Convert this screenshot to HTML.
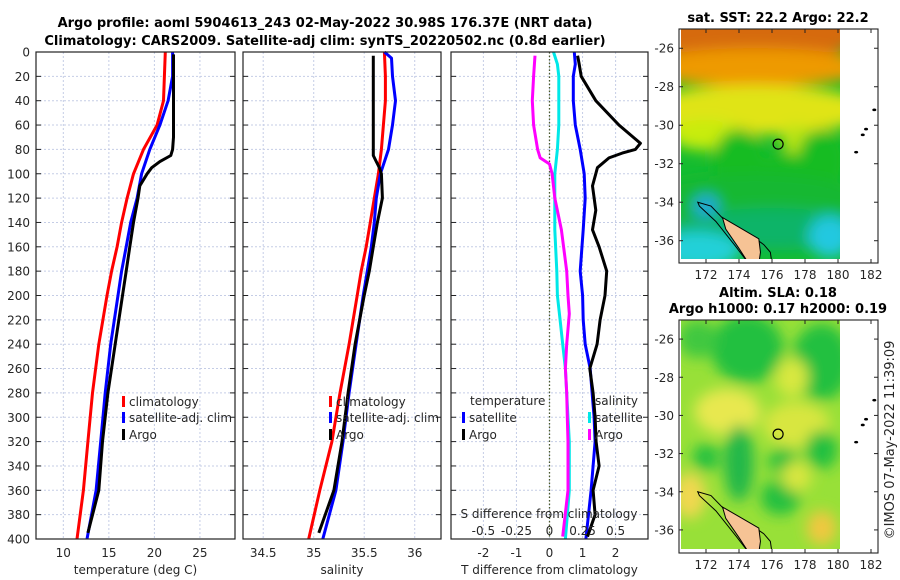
<!DOCTYPE html>
<html><head><meta charset="utf-8"><style>
body{margin:0;background:#fff;}
svg{display:block;font-family:"DejaVu Sans","Liberation Sans",sans-serif;}
.tick{font-size:12px;fill:#262626;}
.ttl{font-size:13px;font-weight:bold;fill:#000;}
</style></head><body>
<svg id="fig" width="900" height="580" viewBox="0 0 900 580">
<defs>
<filter id="blur6" x="-20%" y="-20%" width="140%" height="140%"><feGaussianBlur stdDeviation="7"/></filter>
<clipPath id="clip1"><rect x="681" y="29" width="159" height="230"/></clipPath>
<clipPath id="clip2"><rect x="681" y="320" width="159" height="229"/></clipPath>
</defs>
<text class="ttl" x="325" y="27" text-anchor="middle">Argo profile: aoml 5904613_243 02-May-2022 30.98S 176.37E (NRT data)</text>
<text class="ttl" x="325" y="45" text-anchor="middle">Climatology: CARS2009. Satellite-adj clim: synTS_20220502.nc (0.8d earlier)</text>
<g id="plots"></g>
<g id="maps"></g>
<text x="894" y="440" transform="rotate(-90 894 440)" text-anchor="middle" font-size="13" fill="#262626">©IMOS 07-May-2022 11:39:09</text>
</svg>
<script>
// ---- data ----
const depthTicks=[0,20,40,60,80,100,120,140,160,180,200,220,240,260,280,300,320,340,360,380,400];
const tempTicks=[10,15,20,25];
const salTicks=[34.5,35,35.5,36];
const tdiffTicks=[-2,-1,0,1,2];
const sdiffTicks=[-0.5,-0.25,0,0.25,0.5];
const sdiffTickLabels=["-0.5","-0.25","0","0.25","0.5"];

const climDepth=[0,20,40,60,80,100,120,140,160,180,200,240,280,320,360,400];
const climTemp=[21.2,21.1,21.0,20.3,18.8,17.7,17.0,16.4,15.9,15.3,14.8,13.9,13.2,12.7,12.2,11.5];
const satTemp=[22.0,22.0,21.5,20.6,19.5,18.6,18.1,17.4,16.9,16.4,16.0,15.2,14.6,14.1,13.6,12.6];
const argoDepth=[2,20,40,60,70,80,85,90,95,100,110,120,140,160,180,200,240,280,320,360,395];
const argoTemp=[22.1,22.1,22.1,22.1,22.1,22.0,21.8,20.6,19.7,19.2,18.4,18.2,17.7,17.3,16.9,16.5,15.7,14.9,14.3,13.9,12.7];

const climSal=[35.70,35.71,35.71,35.69,35.67,35.64,35.60,35.56,35.52,35.47,35.43,35.35,35.26,35.18,35.06,34.95];
const satSalDepth=[0,5,20,40,60,80,100,120,140,160,180,200,240,280,320,360,400];
const satSal=[35.70,35.77,35.78,35.81,35.78,35.74,35.66,35.62,35.60,35.57,35.53,35.49,35.42,35.35,35.29,35.22,35.09];
const argoSalDepth=[3,20,40,60,80,85,90,95,100,120,140,160,180,200,240,280,320,360,395];
const argoSal=[35.59,35.59,35.59,35.59,35.59,35.59,35.62,35.65,35.67,35.68,35.63,35.59,35.55,35.50,35.41,35.34,35.28,35.20,35.05];

const diffDepth=[0,10,20,40,60,80,100,120,146,180,200,220,240,260,280,300,320,360,400];
const satSdiff=[0.03,0.06,0.07,0.07,0.07,0.06,0.04,0.04,0.04,0.055,0.06,0.08,0.10,0.12,0.13,0.14,0.15,0.15,0.12];
const satTdiff=[0.75,0.78,0.72,0.72,0.78,0.93,1.05,1.08,1.02,0.93,1.0,1.02,1.08,1.23,1.29,1.35,1.38,1.26,1.10];
const argoSdiffDepth=[3,20,40,60,80,87,92,100,120,146,180,200,215,240,260,280,300,320,360,398];
const argoSdiff=[-0.11,-0.12,-0.13,-0.12,-0.09,-0.07,0.0,0.02,0.04,0.09,0.13,0.14,0.15,0.13,0.12,0.13,0.135,0.14,0.14,0.10];
const argoTdiffDepth=[3,10,20,40,60,75,80,83,87,95,100,110,130,146,160,180,200,220,240,260,280,300,320,340,360,380,398];
const argoTdiff=[0.85,0.9,0.96,1.4,2.1,2.75,2.6,2.2,1.8,1.45,1.4,1.3,1.4,1.3,1.5,1.73,1.68,1.53,1.44,1.22,1.32,1.38,1.41,1.5,1.32,1.38,1.15];

const NS='http://www.w3.org/2000/svg';
function mk(tag,attrs,parent){const e=document.createElementNS(NS,tag);for(const k in attrs)e.setAttribute(k,attrs[k]);parent.appendChild(e);return e;}
const plots=document.getElementById('plots');
const Y0=52,Y1=539;
function yD(d){return Y0+(d/400)*(Y1-Y0);}

function panel(name,x0,x1,xmin,xmax,ticks,labels,xlabel,showY){
  const g=mk('g',{},plots);
  
  
  const sx=v=>x0+(v-xmin)/(xmax-xmin)*(x1-x0);
  depthTicks.forEach(d=>{
    const l=mk('line',{x1:x0,x2:x1,y1:yD(d),y2:yD(d),stroke:'#c5cde6','stroke-width':1,'stroke-dasharray':'2,2'},g);
    
    
    mk('line',{x1:x0,x2:x0+5,y1:yD(d),y2:yD(d),stroke:'#222'},g);
    mk('line',{x1:x1-5,x2:x1,y1:yD(d),y2:yD(d),stroke:'#222'},g);
    if(showY){const t=mk('text',{x:x0-6,y:yD(d)+4.5,'text-anchor':'end',class:'tick'},g);t.textContent=d;
      
      }
  });
  ticks.forEach((v,i)=>{
    const l=mk('line',{x1:sx(v),x2:sx(v),y1:Y0,y2:Y1,stroke:'#c5cde6','stroke-width':1,'stroke-dasharray':'2,2'},g);
    
    
    const t=mk('text',{x:sx(v),y:Y1+18,'text-anchor':'middle',class:'tick'},g);t.textContent=labels[i];
    
    
  });
  const xl=mk('text',{x:(x0+x1)/2,y:Y1+35,'text-anchor':'middle',class:'tick','font-size':'13'},g);xl.textContent=xlabel;
  
  
  return {g,sx};
}
function line(p,sx,vals,depths,color,name){
  const pts=vals.map((v,i)=>sx(v).toFixed(1)+','+yD(depths[i]).toFixed(1)).join(' ');
  const l=mk('polyline',{points:pts,fill:'none',stroke:color,'stroke-width':3,'stroke-linejoin':'round'},p);
  
  
}
function box(g,x0,x1){mk('rect',{x:x0,y:Y0,width:x1-x0,height:Y1-Y0,fill:'none',stroke:'#222','stroke-width':1.2},g);}
function leg(g,x,y,color,text,name){
  mk('rect',{x:x,y:y-10,width:3,height:11,fill:color},g);
  const t=mk('text',{x:x+7,y:y,class:'tick','font-size':'13'},g);t.textContent=text;
  
  
}

// Panel 1 temperature
const p1=panel('temperature-panel',36,235,7.0,28.85,tempTicks,tempTicks.map(String),'temperature (deg C)',true);
line(p1.g,p1.sx,climTemp,climDepth,'#ff0000','climatology-temperature-line');
line(p1.g,p1.sx,satTemp,climDepth,'#0000ff','satellite-temperature-line');
line(p1.g,p1.sx,argoTemp,argoDepth,'#000','argo-temperature-line');
box(p1.g,36,235);
leg(p1.g,122,406,'#ff0000','climatology','legend-climatology');
leg(p1.g,122,422,'#0000ff','satellite-adj. clim','legend-satellite');
leg(p1.g,122,439,'#000','Argo','legend-argo');

// Panel 2 salinity
const p2=panel('salinity-panel',243,441,34.3,36.26,salTicks,salTicks.map(String),'salinity',false);
line(p2.g,p2.sx,climSal,climDepth,'#ff0000','climatology-salinity-line');
line(p2.g,p2.sx,satSal,satSalDepth,'#0000ff','satellite-salinity-line');
line(p2.g,p2.sx,argoSal,argoSalDepth,'#000','argo-salinity-line');
box(p2.g,243,441);
leg(p2.g,329,406,'#ff0000','climatology','legend-climatology');
leg(p2.g,329,422,'#0000ff','satellite-adj. clim','legend-satellite');
leg(p2.g,329,439,'#000','Argo','legend-argo');

// Panel 3 differences
const p3=panel('difference-panel',451,648,-2.98,2.98,tdiffTicks,tdiffTicks.map(String),'T difference from climatology',false);
const ssx=v=>p3.sx(v*4);
mk('line',{x1:p3.sx(0),x2:p3.sx(0),y1:Y0,y2:Y1,stroke:'#4b5a2a','stroke-width':1.3,'stroke-dasharray':'1.5,2'},p3.g);
line(p3.g,ssx,satSdiff,diffDepth,'#00e8e8','satellite-salinity-diff-line');
line(p3.g,ssx,argoSdiff,argoSdiffDepth,'#ff00ff','argo-salinity-diff-line');
line(p3.g,p3.sx,satTdiff,diffDepth,'#0000ff','satellite-temperature-diff-line');
line(p3.g,p3.sx,argoTdiff,argoTdiffDepth,'#000','argo-temperature-diff-line');
box(p3.g,451,648);
{const t=mk('text',{x:470,y:405,class:'tick','font-size':'13'},p3.g);t.textContent='temperature';
 
 
 const t2=mk('text',{x:595,y:405,class:'tick','font-size':'13'},p3.g);t2.textContent='salinity';
 
 }
leg(p3.g,462,422,'#0000ff','satellite','legend-temp-satellite');
leg(p3.g,462,439,'#000','Argo','legend-temp-argo');
leg(p3.g,588,422,'#00e8e8','satellite','legend-sal-satellite');
leg(p3.g,588,439,'#ff00ff','Argo','legend-sal-argo');
{const t=mk('text',{x:549,y:518,'text-anchor':'middle',class:'tick','font-size':'13'},p3.g);t.textContent='S difference from climatology';
 
 
 sdiffTicks.forEach((v,i)=>{const s=mk('text',{x:ssx(v),y:535,'text-anchor':'middle',class:'tick'},p3.g);s.textContent=sdiffTickLabels[i];
  
  });}

// ---- maps ----
const lonTicks=[172,174,176,178,180,182];
const latTicks=[-26,-28,-30,-32,-34,-36];
const maps=document.getElementById('maps');
function mapPanel(name,top,bot,latTop,latBot,clipId,blobs,base,title){
  const g=mk('g',{},maps);
  
  
  const X0=679,X1=878;
  const lx=lon=>706+(lon-172)*16.5;
  const ly=lat=>top+(latTop-lat)/(latTop-latBot)*(bot-top);
  const cg=mk('g',{'clip-path':'url(#'+clipId+')'},g);
  mk('rect',{x:681,y:top,width:159,height:bot-top,fill:base},cg);
  const bg=mk('g',{filter:'url(#blur6)'},cg);
  blobs.forEach(b=>mk('ellipse',{cx:lx(b[0]),cy:ly(b[1]),rx:b[2]*16.5,ry:b[3]*19.2,fill:b[4]},bg));
  const land=[[171.5,-34.0],[172.3,-34.2],[173.2,-35.0],[174.5,-35.6],[175.5,-36.2],[175.9,-36.6],[176.0,-37.2],[174.6,-37.2],[173.8,-36.3],[172.6,-35.0],[171.6,-34.2]];
  mk('polygon',{points:land.map(p=>lx(p[0])+','+ly(p[1])).join(' '),fill:'none',stroke:'#000','stroke-width':1},cg);
  const land2=[[173.0,-34.8],[174.0,-35.3],[175.2,-35.9],[175.3,-36.6],[175.2,-37.2],[174.6,-37.2],[174.0,-36.4],[173.2,-35.4]];
  const lp=mk('polygon',{points:land2.map(p=>lx(p[0])+','+ly(p[1])).join(' '),fill:'#f6c395',stroke:'#000','stroke-width':1},cg);
  
  
  [[181.1,-31.4],[181.5,-30.5],[181.7,-30.2],[182.2,-29.2]].forEach(p=>mk('ellipse',{cx:lx(p[0]),cy:ly(p[1]),rx:2,ry:1.3,fill:'#000'},g));
  const c=mk('circle',{cx:lx(176.37),cy:ly(-30.98),r:5,fill:'none',stroke:'#000','stroke-width':1.2},g);
  
  
  mk('rect',{x:X0,y:top,width:X1-X0,height:bot+4-top,fill:'none',stroke:'#222','stroke-width':1.1},g);
  const by=bot+4;
  lonTicks.forEach(v=>{mk('line',{x1:lx(v),x2:lx(v),y1:by,y2:by-4,stroke:'#222'},g);mk('line',{x1:lx(v),x2:lx(v),y1:top,y2:top+4,stroke:'#222'},g);
    const t=mk('text',{x:lx(v),y:by+16,'text-anchor':'middle',class:'tick'},g);t.textContent=v;
    
    });
  latTicks.forEach(v=>{mk('line',{x1:X0,x2:X0+4,y1:ly(v),y2:ly(v),stroke:'#222'},g);mk('line',{x1:X1,x2:X1-4,y1:ly(v),y2:ly(v),stroke:'#222'},g);
    const t=mk('text',{x:X0-5,y:ly(v)+4.5,'text-anchor':'end',class:'tick'},g);t.textContent=v;
    
    });
  title.forEach((s,i)=>{const t=mk('text',{x:s[1],y:s[2],'text-anchor':'middle',class:'ttl'},g);t.textContent=s[0];
    
    });
}
mapPanel('sst-map',29,259,-25.0,-36.95,'clip1',[
  [175,-24.5,7,2.4,'#d66a08'],[175,-27.0,7,1.0,'#ee9a05'],[175,-29.2,7,1.3,'#e0e418'],[172,-30.5,2.2,0.8,'#c8ec10'],[177.5,-30.8,0.9,0.8,'#b8e418'],
  [174,-32,1.6,1.8,'#14bc24'],[176.8,-32.6,1.4,1.2,'#14bc24'],[179,-31.8,1.4,1.6,'#14bc24'],[175,-34.0,7,1.5,'#16b830'],
  [176,-35.4,6,1.1,'#10b468'],[171.5,-36.5,2.6,1.0,'#20d0d8'],[179.5,-35.8,1.3,1.1,'#20c8e0'],[172,-34.2,0.8,0.6,'#20a8d8']
],'#14bc30',[['sat. SST: 22.2 Argo: 22.2',778,22]]);
mapPanel('sla-map',320,549,-25.0,-37.0,'clip2',[
  [174.5,-26.5,2.2,1.8,'#20c040'],[179,-27.2,1.8,2.0,'#20c040'],[171.5,-26,1.2,1.0,'#40c840'],
  [177.2,-28,1.0,1.0,'#d8e840'],[173.3,-29.8,2.0,1.2,'#e8e850'],[177.5,-30.5,2.0,1.2,'#d8e640'],
  [174.0,-32.5,0.9,2.0,'#20b848'],[172.0,-32.2,0.8,0.7,'#20c040'],[176.7,-32.4,0.9,0.7,'#20c040'],[179,-31.8,1.0,1.0,'#20c040'],
  [176.5,-34.3,1.2,0.9,'#20c040'],[171.0,-34.2,1.0,1.2,'#f0d850'],[179,-35.9,0.9,0.9,'#f0c840'],[177.5,-33.2,0.9,0.8,'#d8e640']
],'#98e038',[['Altim. SLA: 0.18',778,297],['Argo h1000: 0.17 h2000: 0.19',778,313]]);
</script>
</body></html>
